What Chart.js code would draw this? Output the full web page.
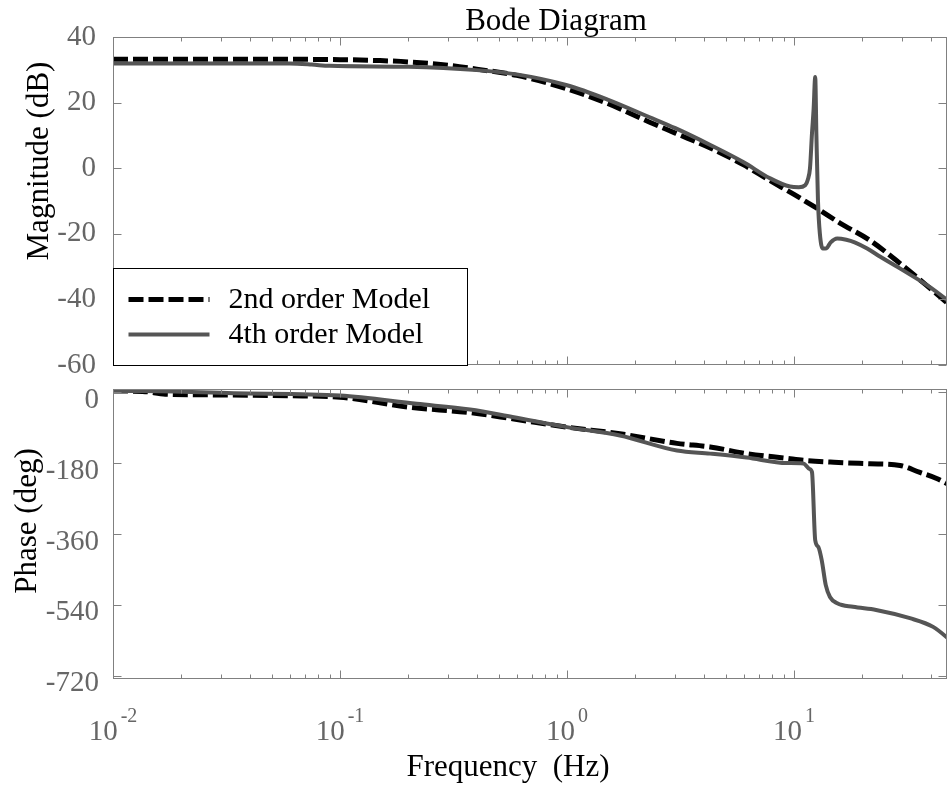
<!DOCTYPE html>
<html lang="en">
<head>
<meta charset="UTF-8">
<title>Bode Diagram</title>
<script src="https://cdn.jsdelivr.net/npm/chart.js"></script>
<style>
    body { margin: 0; background: #fff; }
    #wrap { position: relative; width: 948px; height: 787px; background: #fff; }
    #wrap canvas { position: absolute; left: 0; top: 0; }
</style>
</head>
<body>
<div id="wrap">
    <canvas id="magChart" width="948" height="787"></canvas>
    <canvas id="phaseChart" width="948" height="787"></canvas>
</div>
<script>
const SERIF = '"Liberation Serif", "Times New Roman", serif';
Chart.defaults.font.family = SERIF;

// series names
const seriesNames = ['2nd order Model', '4th order Model'];

// frequency range (Hz) and decade ticks
const xMin = 0.01;
const xMax = 47.2;
const xTickVals = [0.01, 0.1, 1, 10];
const xTickExp = ['-2', '-1', '0', '1'];

// magnitude (dB)
const magFreq2 = [0.01, 0.02, 0.05, 0.1, 0.15, 0.2, 0.3, 0.4, 0.6, 1, 1.5, 2.3, 3, 4.3, 6, 7.8, 10, 12.6, 16, 21.6, 30, 40, 50];
const magDb2 = [33.2, 33.2, 33.2, 33.1, 32.8, 32.4, 31.4, 30.2, 28.3, 24.2, 19.8, 14.1, 10.7, 6.1, 1.0, -3.7, -8.0, -12.2, -16.8, -22.0, -29.6, -36.8, -42.5];
const magFreq4 = [0.01, 0.06, 0.075, 0.09, 0.2, 0.4, 0.6, 1, 1.5, 2.3, 3, 4.3, 6, 7.8, 9.6, 10.5, 11.2, 11.5, 11.76, 12.0, 12.2, 12.4, 12.55, 12.75, 13.0, 13.4, 13.9, 14.5, 15.5, 17, 18.5, 21, 24, 30, 40, 50];
const magDb4 = [31.9, 31.9, 31.6, 31.2, 30.9, 29.9, 28.6, 25.3, 21.0, 15.6, 12.2, 7.0, 1.8, -3.0, -5.6, -5.8, -5.2, -3.5, 0, 10.6, 18, 27.8, 10, -9.8, -20, -24.5, -24.4, -22.6, -21.4, -21.8, -22.6, -24.5, -27, -31, -36.4, -41.5];
const magTicks = [-60, -40, -20, 0, 20, 40];

// phase (deg)
const phFreq2 = [0.01, 0.0135, 0.017, 0.03, 0.06, 0.1, 0.2, 0.374, 0.575, 1, 1.71, 3.05, 4.27, 6.18, 9.3, 11, 15, 21.6, 29.3, 35.6, 42.5, 50];
const phDeg2 = [3, 2, -5, -7, -9, -12.6, -38, -52, -67.6, -88.7, -105.6, -130, -139, -156, -168, -173, -178, -181.7, -186, -203, -219, -240];
const phFreq4 = [0.01, 0.0135, 0.034, 0.1, 0.218, 0.374, 0.575, 1, 1.71, 3.05, 4.27, 6.18, 9.3, 11.0, 11.7, 12.0, 12.4, 12.8, 13.25, 13.8, 14.4, 15.5, 18.2, 23, 32.4, 41, 50];
const phDeg4 = [3, 3, -2.5, -8.4, -29.6, -44, -63, -88.7, -110, -148, -156, -166, -180, -181, -195, -203, -376, -393, -427, -490, -520, -536, -545, -553, -574, -596, -635];
const phTicks = [-720, -540, -360, -180, 0];

const dashedStyle = { borderColor: '#000', borderWidth: 5, borderDash: [15, 5], order: 1 };
const solidStyle = { borderColor: '#555', borderWidth: 4, order: 0 };

function lineDs(label, xs, ys, style) {
    return Object.assign({
        label: label,
        data: xs.map((x, i) => ({ x: x, y: ys[i] })),
        pointRadius: 0,
        fill: false,
        clip: 0,
        cubicInterpolationMode: 'monotone'
    }, style);
}

// box, inward ticks, labels and legend (MATLAB look)
const bodeFrame = {
    id: 'bodeFrame',
    afterDatasetsDraw(chart, args, o) {
        const ctx = chart.ctx;
        const a = chart.chartArea;
        const x = chart.scales.x, y = chart.scales.y;
        const L = Math.round(a.left) + 0.5, R = Math.round(a.right) - 0.5;
        const T = Math.round(a.top) + 0.5, B = Math.round(a.bottom) - 0.5;
        ctx.save();
        ctx.strokeStyle = '#808080';
        ctx.lineWidth = 1;
        ctx.strokeRect(L, T, R - L, B - T);

        ctx.beginPath();
        for (let d = -2; d <= 1; d++) {
            for (let m = 1; m <= 9; m++) {
                const v = m * Math.pow(10, d);
                if (v < xMin || v > xMax) continue;
                const px = Math.round(x.getPixelForValue(v)) + 0.5;
                const len = m === 1 ? 8 : 4;
                ctx.moveTo(px, T); ctx.lineTo(px, T + len);
                ctx.moveTo(px, B); ctx.lineTo(px, B - len);
            }
        }
        y.ticks.forEach(t => {
            const py = Math.round(y.getPixelForValue(t.value)) + 0.5;
            ctx.moveTo(L, py); ctx.lineTo(L + 8, py);
            ctx.moveTo(R, py); ctx.lineTo(R - 8, py);
        });
        ctx.stroke();

        // y axis label
        ctx.fillStyle = '#000';
        ctx.font = '31px ' + SERIF;
        ctx.textAlign = 'center';
        ctx.textBaseline = 'middle';
        ctx.save();
        ctx.translate(o.yLabelX, o.yLabelY);
        ctx.rotate(-Math.PI / 2);
        ctx.fillText(o.yLabel, 0, 0);
        ctx.restore();

        if (o.title) {
            ctx.textBaseline = 'alphabetic';
            ctx.fillText(o.title, 556, 30);
        }

        if (o.xLabels) {
            ctx.fillStyle = '#666';
            ctx.textAlign = 'left';
            ctx.textBaseline = 'alphabetic';
            xTickVals.forEach((v, i) => {
                const px = x.getPixelForValue(v);
                ctx.font = '29px ' + SERIF;
                const w1 = ctx.measureText('10').width;
                ctx.font = '20px ' + SERIF;
                const w2 = ctx.measureText(xTickExp[i]).width;
                const gap = 3;
                const sx = px - (w1 + gap + w2) / 2;
                ctx.font = '29px ' + SERIF;
                ctx.fillText('10', sx, 740);
                ctx.font = '20px ' + SERIF;
                ctx.fillText(xTickExp[i], sx + w1 + gap, 722);
            });
            ctx.fillStyle = '#000';
            ctx.font = '31px ' + SERIF;
            ctx.textAlign = 'center';
            ctx.textBaseline = 'middle';
            ctx.fillText('Frequency  (Hz)', 508, 768);
        }

        if (o.legend) {
            const lw = 354, lh = 97;
            const lx = Math.round(a.left) + 0.5, ly = Math.round(a.bottom) - lh + 0.5;
            ctx.fillStyle = '#fff';
            ctx.fillRect(lx, ly, lw, lh);
            ctx.strokeStyle = '#000';
            ctx.lineWidth = 1;
            ctx.strokeRect(lx, ly, lw, lh);
            chart.data.datasets.forEach((ds, i) => {
                const cy = ly + 31 + i * 35;
                ctx.save();
                ctx.strokeStyle = ds.borderColor;
                ctx.lineWidth = ds.borderWidth;
                ctx.setLineDash(ds.borderDash || []);
                ctx.beginPath();
                ctx.moveTo(lx + 15, cy);
                ctx.lineTo(lx + 96, cy);
                ctx.stroke();
                ctx.restore();
                ctx.fillStyle = '#000';
                ctx.font = '30px ' + SERIF;
                ctx.textAlign = 'left';
                ctx.textBaseline = 'middle';
                ctx.fillText(ds.label, lx + 115, cy + 1);
            });
        }
        ctx.restore();
    }
};

function yScale(min, max, pad, offset, ticks) {
    return {
        min: min,
        max: max,
        afterBuildTicks(s) { s.ticks = ticks.map(v => ({ value: v })); },
        ticks: { color: '#666', font: { size: 29 }, padding: pad, labelOffset: offset },
        grid: { display: false, drawTicks: false },
        border: { display: false },
        afterFit(s) { s.width = 113; }
    };
}

function baseOptions(padding, yOpts, frameOpts) {
    return {
        responsive: false,
        animation: false,
        devicePixelRatio: 1,
        layout: { padding: padding },
        plugins: {
            legend: { display: false },
            tooltip: { enabled: false },
            bodeFrame: frameOpts
        },
        scales: {
            x: { type: 'logarithmic', min: xMin, max: xMax, display: false },
            y: yOpts
        }
    };
}

new Chart(document.getElementById('magChart'), {
    type: 'line',
    data: {
        datasets: [
            lineDs(seriesNames[0], magFreq2, magDb2, dashedStyle),
            lineDs(seriesNames[1], magFreq4, magDb4, solidStyle)
        ]
    },
    options: baseOptions(
        { top: 37, bottom: 422, left: 0, right: 1 },
        yScale(-60, 40, 17, 0, magTicks),
        { yLabel: 'Magnitude (dB)', yLabelX: 40, yLabelY: 161, title: 'Bode Diagram', legend: true }
    ),
    plugins: [bodeFrame]
});

new Chart(document.getElementById('phaseChart'), {
    type: 'line',
    data: {
        datasets: [
            lineDs(seriesNames[0], phFreq2, phDeg2, dashedStyle),
            lineDs(seriesNames[1], phFreq4, phDeg4, solidStyle)
        ]
    },
    options: baseOptions(
        { top: 389, bottom: 108, left: 0, right: 1 },
        yScale(-728.4, 8.1, 14, 8, phTicks),
        { yLabel: 'Phase (deg)', yLabelX: 28, yLabelY: 521, xLabels: true }
    ),
    plugins: [bodeFrame]
});
</script>
</body>
</html>
